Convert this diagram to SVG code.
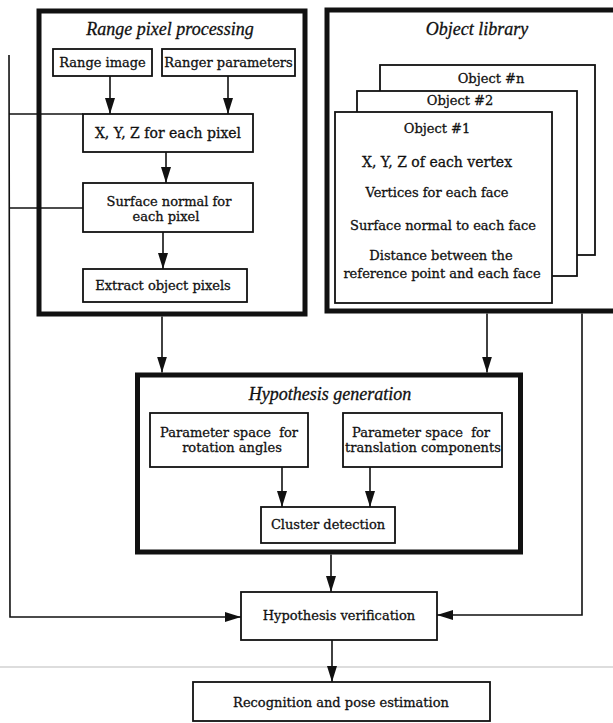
<svg xmlns="http://www.w3.org/2000/svg" width="613" height="723" viewBox="0 0 613 723">
<defs>
<marker id="ah" markerUnits="userSpaceOnUse" markerWidth="16" markerHeight="10" refX="16" refY="5" orient="auto"><path d="M0,0 L16,5 L0,10 Z" fill="#111"/></marker>
</defs>
<style>
.t{font-family:"DejaVu Serif","Liberation Serif",serif;font-size:13px;fill:#111;stroke:#111;stroke-width:0.3;text-anchor:middle}
.ti{font-family:"Liberation Serif","DejaVu Serif",serif;font-style:italic;font-size:18px;fill:#111;stroke:#111;stroke-width:0.3;text-anchor:middle}
.box{fill:#fff;stroke:#111;stroke-width:1.8}
.thick{fill:#fff;stroke:#111;stroke-width:5}
.ln{fill:none;stroke:#111;stroke-width:1.6}
.arr{fill:none;stroke:#111;stroke-width:1.6;marker-end:url(#ah)}
</style>
<rect x="0" y="0" width="613" height="723" fill="#fff"/>
<line x1="0" y1="667" x2="613" y2="667" stroke="#bbb" stroke-width="1"/>

<g id="range-pixel-processing">
<rect class="thick" x="39" y="11" width="266" height="303"/>
<text class="ti" x="170" y="35">Range pixel processing</text>
</g>
<g id="object-library">
<rect class="thick" x="327" y="10" width="300" height="301"/>
<text class="ti" x="477" y="35">Object library</text>
</g>
<g id="hypothesis-generation">
<rect class="thick" x="137.5" y="375" width="383" height="177"/>
<text class="ti" x="330" y="400">Hypothesis generation</text>
</g>

<g id="connectors">
<line class="arr" x1="110" y1="76" x2="110" y2="114"/>
<line class="arr" x1="228" y1="76" x2="228" y2="114"/>
<line class="arr" x1="166" y1="152" x2="166" y2="183"/>
<line class="arr" x1="163" y1="232" x2="163" y2="269"/>
<line class="arr" x1="162" y1="316.5" x2="162" y2="372.5"/>
<line class="arr" x1="487" y1="313.5" x2="487" y2="372.5"/>
<line class="arr" x1="282" y1="467" x2="282" y2="507"/>
<line class="arr" x1="370" y1="467" x2="370" y2="507"/>
<line class="arr" x1="331" y1="554.5" x2="331" y2="592"/>
<line class="arr" x1="332" y1="640" x2="332" y2="682"/>
<polyline class="arr" points="9,55 10,617 241,617"/>
<line class="ln" x1="9" y1="114" x2="83" y2="114"/>
<line class="ln" x1="9" y1="208" x2="83" y2="208"/>
<polyline class="arr" points="582,313.5 582,615 437,615"/>
</g>

<g id="range-image">
<rect class="box" x="53" y="49" width="99" height="27"/>
<text class="t" x="102.5" y="67">Range image</text>
</g>
<g id="ranger-parameters">
<rect class="box" x="162" y="49" width="133" height="27"/>
<text class="t" x="228.5" y="67">Ranger parameters</text>
</g>
<g id="xyz-pixel">
<rect class="box" x="83" y="114" width="170" height="38"/>
<text class="t" x="168" y="138" style="font-size:14px">X, Y, Z for each pixel</text>
</g>
<g id="surface-normal-pixel">
<rect class="box" x="83" y="183" width="170" height="49"/>
<text class="t" x="169" y="206">Surface normal for</text>
<text class="t" x="166" y="221">each pixel</text>
</g>
<g id="extract-object-pixels">
<rect class="box" x="83" y="269" width="164" height="33"/>
<text class="t" x="163" y="290">Extract object pixels</text>
</g>

<g id="object-n">
<rect class="box" x="380" y="65" width="215" height="190"/>
<text class="t" x="491" y="83">Object #n</text>
</g>
<g id="object-2">
<rect class="box" x="357" y="91" width="220" height="185"/>
<text class="t" x="460" y="105">Object #2</text>
</g>
<g id="object-1">
<rect class="box" x="335" y="112" width="217" height="191"/>
<text class="t" x="437" y="133">Object #1</text>
<text class="t" x="437" y="167" style="font-size:14px">X, Y, Z of each vertex</text>
<text class="t" x="437" y="197">Vertices for each face</text>
<text class="t" x="443" y="230">Surface normal to each face</text>
<text class="t" x="441" y="260">Distance between the</text>
<text class="t" x="442" y="278">reference point and each face</text>
</g>

<g id="rotation-space">
<rect class="box" x="150" y="413" width="158" height="54"/>
<text class="t" x="229" y="437" xml:space="preserve">Parameter space  for</text>
<text class="t" x="232" y="452">rotation angles</text>
</g>
<g id="translation-space">
<rect class="box" x="343" y="413" width="159" height="54"/>
<text class="t" x="421" y="437" xml:space="preserve">Parameter space  for</text>
<text class="t" x="423" y="452">translation components</text>
</g>
<g id="cluster-detection">
<rect class="box" x="261" y="507" width="134" height="36"/>
<text class="t" x="328" y="529">Cluster detection</text>
</g>
<g id="hypothesis-verification">
<rect class="box" x="241" y="592" width="196" height="48"/>
<text class="t" x="339" y="620">Hypothesis verification</text>
</g>
<g id="recognition-pose">
<rect class="box" x="193" y="682" width="297" height="39"/>
<text class="t" x="341" y="707">Recognition and pose estimation</text>
</g>
</svg>
